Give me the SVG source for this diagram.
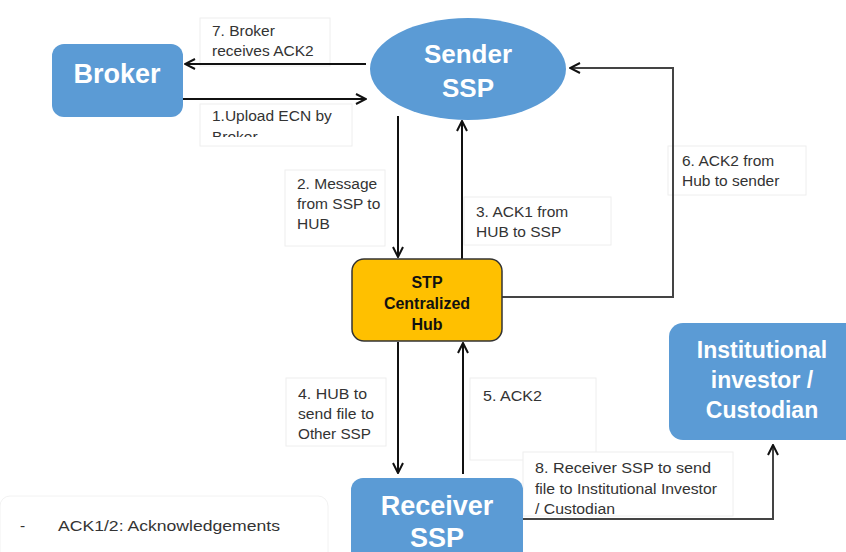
<svg xmlns="http://www.w3.org/2000/svg" width="846" height="552" viewBox="0 0 846 552">
<defs>
<style>
.node{fill:#5B9BD5}
.nt{fill:#fff;font-family:"Liberation Sans",Arial,sans-serif;font-weight:bold;text-anchor:middle}
.ht{fill:#111;font-family:"Liberation Sans",Arial,sans-serif;font-weight:bold;text-anchor:middle;font-size:16px}
.lb{fill:#fff;stroke:#eeeeee;stroke-width:1}
.lt{fill:#333;font-family:"Liberation Sans",Arial,sans-serif;font-size:15.5px}
.ln{fill:none;stroke:#111;stroke-width:2}
.lg{fill:none;stroke:#444;stroke-width:2}
</style>
<marker id="ah" viewBox="0 0 12 12" refX="11" refY="6" markerWidth="12" markerHeight="12" markerUnits="userSpaceOnUse" orient="auto">
<path d="M1,1 L11,6 L1,11" fill="none" stroke="#111" stroke-width="2"/>
</marker>
<clipPath id="c1"><rect x="200" y="100" width="152" height="37"/></clipPath>
</defs>
<rect width="846" height="552" fill="#fff"/>

<g id="labels">
<rect class="lb" x="200" y="18" width="130" height="48"/>
<text class="lt" x="212" y="36">7. Broker</text>
<text class="lt" x="212" y="56">receives ACK2</text>
<rect class="lb" x="200" y="104" width="152" height="42"/>
<g clip-path="url(#c1)">
<text class="lt" x="212" y="121">1.Upload ECN by</text>
<text class="lt" x="212" y="142">Broker</text>
</g>
<rect class="lb" x="285" y="170" width="100" height="76"/>
<text class="lt" x="297" y="189">2. Message</text>
<text class="lt" x="297" y="209">from SSP to</text>
<text class="lt" x="297" y="229">HUB</text>
<rect class="lb" x="464" y="197" width="147" height="48"/>
<text class="lt" x="476" y="217">3. ACK1 from</text>
<text class="lt" x="476" y="237">HUB to SSP</text>
<rect class="lb" x="668" y="146" width="138" height="49"/>
<text class="lt" x="682" y="166">6. ACK2 from</text>
<text class="lt" x="682" y="186">Hub to sender</text>
<rect class="lb" x="286" y="378" width="100" height="68"/>
<text class="lt" x="298" y="399" textLength="69" lengthAdjust="spacingAndGlyphs">4. HUB to</text>
<text class="lt" x="298" y="419" textLength="76" lengthAdjust="spacingAndGlyphs">send file to</text>
<text class="lt" x="298" y="439" textLength="73" lengthAdjust="spacingAndGlyphs">Other SSP</text>
<rect class="lb" x="470" y="378" width="126" height="82"/>
<text class="lt" x="483" y="401" textLength="59" lengthAdjust="spacingAndGlyphs">5. ACK2</text>
<rect class="lb" x="523" y="452" width="210" height="64"/>
<text class="lt" x="535" y="473" textLength="176" lengthAdjust="spacingAndGlyphs">8. Receiver SSP to send</text>
<text class="lt" x="535" y="494" textLength="182" lengthAdjust="spacingAndGlyphs">file to Institutional Investor</text>
<text class="lt" x="535" y="514" textLength="80" lengthAdjust="spacingAndGlyphs">/ Custodian</text>
</g>

<g id="legend">
<rect x="0" y="496" width="328" height="70" rx="10" fill="#fff" stroke="#f2f2f2"/>
<text class="lt" x="20" y="531">-</text>
<text class="lt" x="58" y="531" textLength="222" lengthAdjust="spacingAndGlyphs">ACK1/2: Acknowledgements</text>
</g>

<g id="connectors">
<line class="ln" x1="366" y1="64" x2="185" y2="64" marker-end="url(#ah)"/>
<line class="ln" x1="183" y1="99" x2="366" y2="99" marker-end="url(#ah)"/>
<line class="ln" x1="398" y1="116" x2="398" y2="257" marker-end="url(#ah)"/>
<line class="ln" x1="462" y1="259" x2="462" y2="121" marker-end="url(#ah)"/>
<polyline class="lg" points="502,297 673,297 673,68 570,68" marker-end="url(#ah)"/>
<line class="ln" x1="398" y1="342" x2="398" y2="473" marker-end="url(#ah)"/>
<line class="ln" x1="463" y1="474" x2="463" y2="343" marker-end="url(#ah)"/>
<polyline class="lg" points="523,519 773,519 773,445" marker-end="url(#ah)"/>
</g>

<g id="broker">
<rect class="node" x="52" y="44" width="131" height="73" rx="12"/>
<text class="nt" x="117" y="83" font-size="27">Broker</text>
</g>

<g id="sender">
<ellipse class="node" cx="468" cy="69" rx="98" ry="51"/>
<text class="nt" x="468" y="63" font-size="26">Sender</text>
<text class="nt" x="468" y="97" font-size="26">SSP</text>
</g>

<g id="hub">
<rect x="352" y="259" width="150" height="82" rx="12" fill="#FFC000" stroke="#333" stroke-width="1.5"/>
<text class="ht" x="427" y="288">STP</text>
<text class="ht" x="427" y="309">Centralized</text>
<text class="ht" x="427" y="330">Hub</text>
</g>

<g id="institutional">
<rect class="node" x="669" y="323" width="200" height="117" rx="14"/>
<text class="nt" x="762" y="358" font-size="23">Institutional</text>
<text class="nt" x="762" y="388" font-size="23">investor /</text>
<text class="nt" x="762" y="418" font-size="23">Custodian</text>
</g>

<g id="receiver">
<rect class="node" x="351" y="478" width="172" height="100" rx="12"/>
<text class="nt" x="437" y="515" font-size="27">Receiver</text>
<text class="nt" x="437" y="547" font-size="27">SSP</text>
</g>
</svg>
